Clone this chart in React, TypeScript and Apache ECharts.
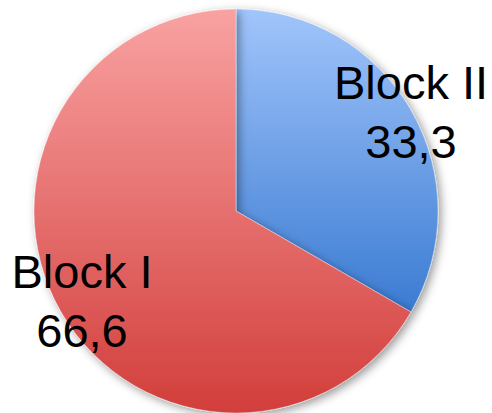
import React, { useEffect, useRef } from "react";
import * as echarts from "echarts";

const categories = ["Block II", "Block I"];
const values = [33.3, 66.6];
const topColors = ["#a1c5fb", "#f9a2a2"];
const bottomColors = ["#3b7bd2", "#d23e3b"];
const labelCenters: [number, number][] = [
  [411, 112],
  [82, 301],
];

export default function App() {
  const ref = useRef<HTMLDivElement>(null);
  useEffect(() => {
    if (!ref.current) return;
    const chart = echarts.init(ref.current, null, { renderer: "svg" });
    chart.setOption({
      animation: false,
      backgroundColor: "#ffffff",
      series: [
        {
          type: "pie",
          center: [236, 211],
          radius: 202,
          startAngle: 90,
          clockwise: true,
          silent: true,
          data: categories.map((name, i) => ({
            name,
            value: values[i],
            itemStyle: {
              color: new echarts.graphic.LinearGradient(0, 0, 0, 1, [
                { offset: 0, color: topColors[i] },
                { offset: 1, color: bottomColors[i] },
              ]),
            },
          })),
          itemStyle: {
            borderColor: "rgba(255,255,255,0.6)",
            borderWidth: 0.6,
            shadowBlur: 10,
            shadowColor: "rgba(0,0,0,0.4)",
            shadowOffsetX: 3,
            shadowOffsetY: 3,
          },
          label: {
            show: true,
            position: "inside",
            formatter: (p: any) =>
              p.name + "\n" + String(p.value).replace(".", ","),
            fontFamily: "Liberation Sans, Arial, sans-serif",
            fontSize: 47,
            lineHeight: 59,
            color: "#000000",
            align: "center",
          },
          labelLine: { show: false },
          labelLayout: (params: any) => ({
            x: labelCenters[params.dataIndex][0],
            y: labelCenters[params.dataIndex][1],
            align: "center",
            verticalAlign: "middle",
          }),
        },
      ],
    });
    return () => chart.dispose();
  }, []);
  return (
    <div
      ref={ref}
      style={{ position: "fixed", left: 0, top: 0, width: 492, height: 413 }}
    />
  );
}
